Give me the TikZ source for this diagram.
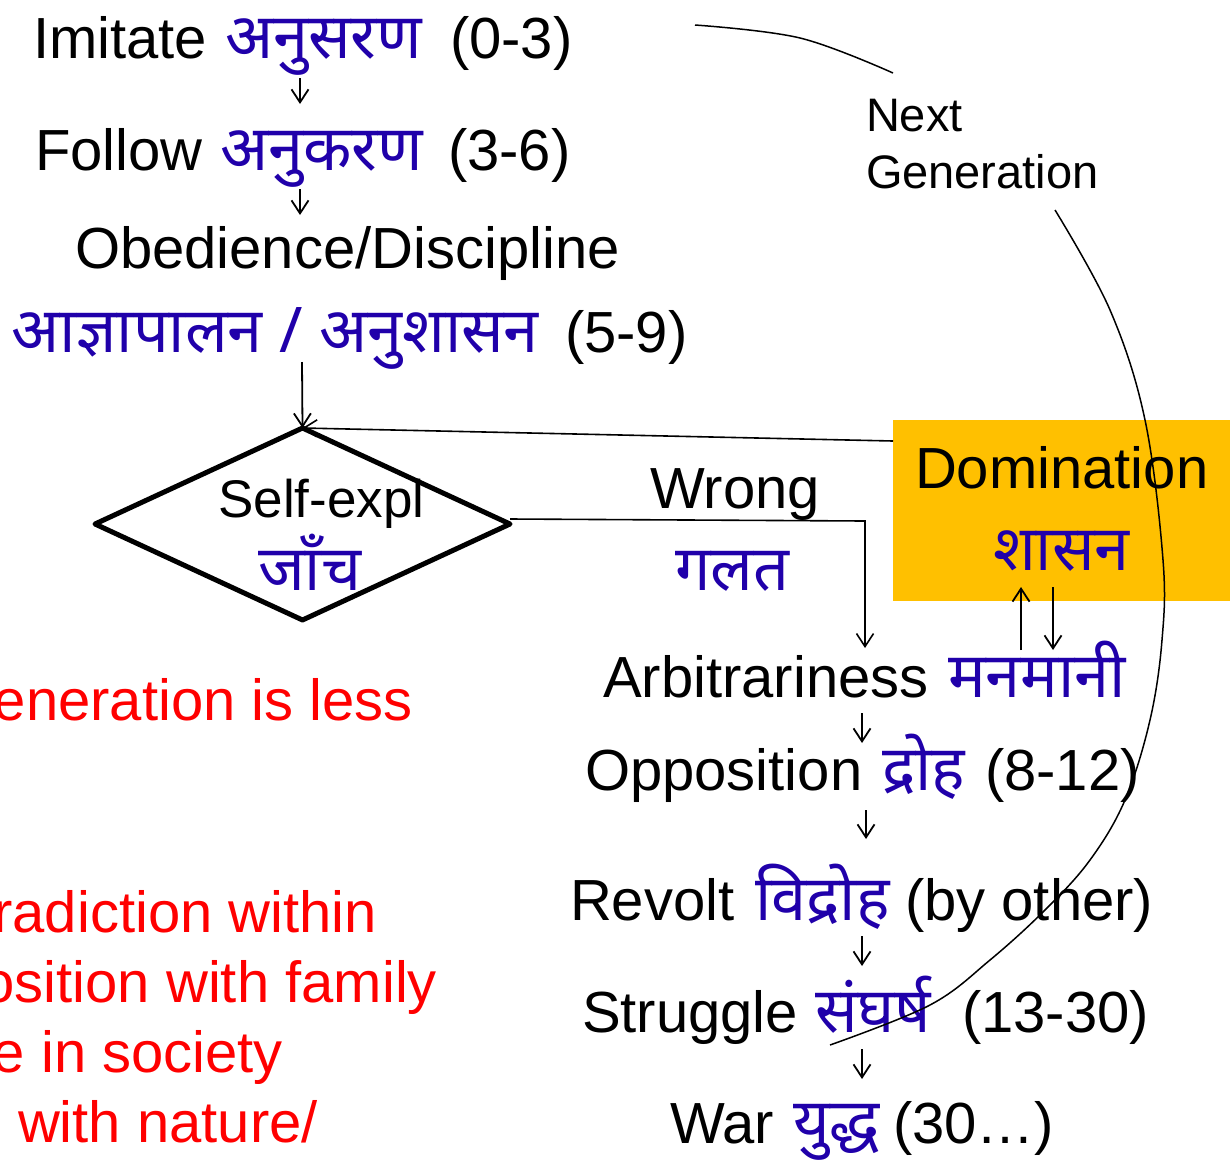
\documentclass[tikz,border=0pt]{standalone}
\usepackage{fontspec}
\setmainfont{Liberation Sans}
\newfontfamily\dev[Script=Devanagari]{Noto Sans}
\usetikzlibrary{shapes.geometric,arrows.meta}
\definecolor{hblue}{RGB}{32,0,170}
\definecolor{domorange}{RGB}{255,192,0}
\definecolor{redtxt}{RGB}{255,0,0}
\tikzset{
  lat/.style={font=\fontsize{58}{70}\selectfont, inner sep=0pt, outer sep=0pt, anchor=base west},
  hin/.style={font=\dev\fontsize{63}{75}\selectfont, text=hblue, inner sep=0pt, outer sep=0pt, anchor=base west},
  redl/.style={font=\fontsize{58}{70}\selectfont, text=redtxt, inner sep=0pt, outer sep=0pt, anchor=base east},
  ngtxt/.style={font=\fontsize{47}{57}\selectfont, inner sep=0pt, outer sep=0pt, anchor=base west},
  barb/.style={-{Straight Barb[length=13pt,width=17pt]}},
  tip/.style={barb, line width=1.8pt},
  conn/.style={line width=1.6pt},
  curve/.style={line width=1.5pt},
}
\begin{document}
\begin{tikzpicture}[x=1pt,y=-1pt]
\useasboundingbox (0,0) rectangle (1230,1167);
\clip (0,0) rectangle (1230,1167);

% left column
\node[lat] (imit) at (33,58) {Imitate};
\node[hin] (imitH) at (225,58) {अनुसरण};
\node[lat] (imitA) at (450,58) {(0-3)};
\node[lat] (foll) at (35,170) {Follow};
\node[hin] (follH) at (220,170) {अनुकरण};
\node[lat] (follA) at (448,170) {(3-6)};
\node[lat] (obed) at (75,268) {Obedience/Discipline};
\node[hin] (obedH) at (12,352) {आज्ञापालन / अनुशासन};
\node[lat] (obedA) at (565,352) {(5-9)};

\coordinate (a1s) at (300,78);  \coordinate (a1e) at (300,104);
\coordinate (a2s) at (300,189); \coordinate (a2e) at (300,215);
\coordinate (a3s) at (302,362);
\draw[tip] (a1s) -- (a1e);
\draw[tip] (a2s) -- (a2e);

% diamond
\node[diamond, draw, line width=5pt, line join=round, minimum width=415pt, minimum height=192pt, inner sep=0pt, outer sep=0pt] (dia) at (302.5,524) {};
\node[font=\fontsize{53}{64}\selectfont, inner sep=0pt, anchor=base west] (self) at (218,517) {Self-expl};
\node[hin] (jaanch) at (258,590) {जाँच};
\draw[tip] (a3s) -- (dia.north);

% domination box
\node[fill=domorange, minimum width=337pt, minimum height=181pt, inner sep=0pt, outer sep=0pt, anchor=north west] (dom) at (893,420) {};
\node[lat] (domT) at (915,488) {Domination};
\node[hin] (domH) at (993,570) {शासन};
\coordinate (domL) at (893,441);
\draw[conn, barb] (domL) -- (dia.north);

% wrong
\node[lat] (wrong) at (650,508) {Wrong};
\node[hin] (wrongH) at (675,590) {गलत};
\coordinate (elb) at (865,521);
\coordinate (arbtop) at (865,648);
\draw[conn, barb] ([yshift=5pt]dia.east) -- (elb) -- (arbtop);

% right column
\node[lat] (arb) at (603,697) {Arbitrariness};
\node[hin] (arbH) at (948,697) {मनमानी};
\node[lat] (opp) at (585,790) {Opposition};
\node[hin] (oppH) at (882,790) {द्रोह};
\node[lat] (oppA) at (985,790) {(8-12)};
\node[lat] (rev) at (570,920) {Revolt};
\node[hin] (revH) at (755,920) {विद्रोह};
\node[lat] (revA) at (905,920) {(by other)};
\node[lat] (str) at (582,1032) {Struggle};
\node[hin] (strH) at (815,1032) {संघर्ष};
\node[lat] (strA) at (962,1032) {(13-30)};
\node[lat] (war) at (670,1143) {War};
\node[hin] (warH) at (793,1143) {युद्ध};
\node[lat] (warA) at (893,1143) {(30…)};

\coordinate (du1) at (1021,650); \coordinate (du2) at (1021,587);
\coordinate (dd1) at (1053,587); \coordinate (dd2) at (1053,650);
\draw[tip] (du1) -- (du2);
\draw[tip] (dd1) -- (dd2);

\coordinate (r1s) at (862,713);  \coordinate (r1e) at (862,743);
\coordinate (r2s) at (866,810);  \coordinate (r2e) at (866,839);
\coordinate (r3s) at (862,936);  \coordinate (r3e) at (862,966);
\coordinate (r4s) at (862,1049); \coordinate (r4e) at (862,1079);
\draw[tip] (r1s) -- (r1e);
\draw[tip] (r2s) -- (r2e);
\draw[tip] (r3s) -- (r3e);
\draw[tip] (r4s) -- (r4e);

% red text
\node[redl] (red1) at (413,720) {eneration is less};
\node[redl] (red2) at (377,932) {radiction within};
\node[redl] (red3) at (437,1002) {osition with family};
\node[redl] (red4) at (283,1072) {e in society};
\node[redl, anchor=base west] (red5) at (18,1142) {with nature/};

% next generation
\node[ngtxt] (ng1) at (866,131) {Next};
\node[ngtxt] (ng2) at (866,188) {Generation};
\draw[curve] plot[smooth, tension=0.6] coordinates {(695,25) (800,38) (893,73)};
\draw[curve] plot[smooth, tension=0.6] coordinates {(1055,210) (1110,310) (1145,420) (1163,560) (1162,640) (1150,720) (1125,800) (1090,860) (1045,910) (990,960) (930,1005) (830,1045)};
\end{tikzpicture}
\end{document}
